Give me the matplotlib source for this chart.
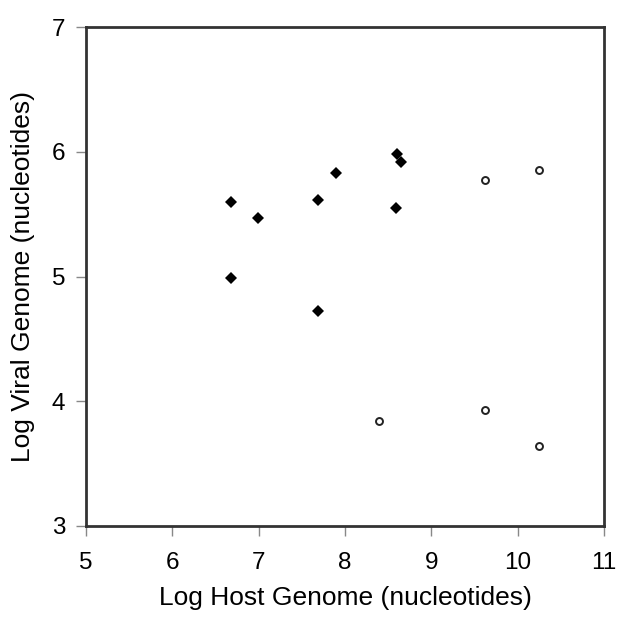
import matplotlib
matplotlib.use("Agg")
import matplotlib.pyplot as plt

plt.rcParams["font.family"] = ["Liberation Sans", "DejaVu Sans"]

# filled diamonds
host_filled = [6.68, 6.99, 6.68, 7.69, 7.69, 7.89, 8.60, 8.65, 8.59]
viral_filled = [5.60, 5.47, 4.99, 5.61, 4.72, 5.83, 5.98, 5.92, 5.55]

# open circles
host_open = [9.62, 10.25, 8.39, 9.62, 10.25]
viral_open = [5.77, 5.85, 3.84, 3.93, 3.64]

fig = plt.figure(figsize=(6.18, 6.17), dpi=100)
# frame: left 86px, right 604px, top 27px, bottom 526px
ax = fig.add_axes([86 / 618, 1 - 526 / 617, 518 / 618, 499 / 617])

ax.plot(host_filled, viral_filled, "D", color="black", ms=6.5, mew=0, ls="none")
ax.plot(host_open, viral_open, "o", mfc="white", mec="#222222", ms=5, mew=1.4, ls="none")

ax.set_xlim(5, 11)
ax.set_ylim(3, 7)
ax.set_xticks(range(5, 12))
ax.set_yticks(range(3, 8))
for s in ax.spines.values():
    s.set_linewidth(2)
    s.set_color("#333333")
ax.tick_params(direction="out", length=7, width=1, color="#888888",
               labelsize=17.5)
ax.tick_params(axis="x", pad=12)
ax.tick_params(axis="y", pad=8)
ax.set_xlabel("Log Host Genome (nucleotides)", fontsize=19, labelpad=8)
ax.set_ylabel("Log Viral Genome (nucleotides)", fontsize=19, labelpad=12)

fig.savefig("out.png", dpi=100)
